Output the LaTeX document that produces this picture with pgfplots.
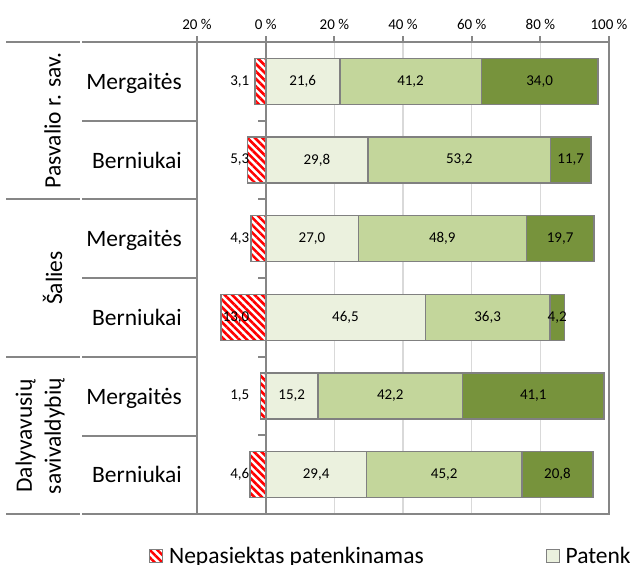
\documentclass[border=0pt]{standalone}
\usepackage{pgfplots}
\pgfplotsset{compat=1.18}
\usepackage{pgfplotstable}
\usepackage{fontspec}
\setmainfont{Carlito}
\usetikzlibrary{patterns.meta}

\definecolor{frame}{HTML}{868686}
\definecolor{gridc}{HTML}{D9D9D9}
\definecolor{c1}{HTML}{EBF1DE}
\definecolor{c2}{HTML}{C3D69B}
\definecolor{c3}{HTML}{77933C}
\definecolor{edge}{HTML}{808080}

\pgfplotstableread{
row nep pat pag auk
6 3.1 21.6 41.2 34.0
5 5.3 29.8 53.2 11.7
4 4.3 27.0 48.9 19.7
3 13.0 46.5 36.3 4.2
2 1.5 15.2 42.2 41.1
1 4.6 29.4 45.2 20.8
}\data

\newcommand{\bigf}{\fontsize{23.5}{29}\selectfont}
\newcommand{\smallf}{\fontsize{15}{18}\selectfont}

\pgfplotsset{
  common/.style={
    at={(197pt,-42pt)}, anchor=north west,
    scale only axis, width=412pt, height=472pt,
    xmin=-20, xmax=100, ymin=0.5, ymax=6.5,
    bar width=46pt,
    /pgf/number format/assume math mode=true,
  },
  lab/.style={
    draw=none, mark=none,
    point meta=explicit,
    nodes near coords={\pgfmathprintnumber[fixed,fixed zerofill,precision=1,use comma]{\pgfplotspointmeta}},
    every node near coord/.style={anchor=center, inner sep=0pt, font=\smallf, text=black},
  },
}

\begin{document}
\begin{tikzpicture}
\begin{axis}[common,
  xbar stacked,
  axis line style={draw=frame, line width=1.8pt},
  xtick={-20,0,20,40,60,80,100},
  xticklabels={20~\%,0~\%,20~\%,40~\%,60~\%,80~\%,100~\%},
  xtick pos=upper, xticklabel pos=upper,
  tick align=outside, major tick length=6pt,
  xtick style={draw=frame, line width=1.8pt},
  xmajorgrids, grid style={draw=gridc, line width=1.3pt},
  ytick=\empty,
  tick label style={font=\smallf},
  xticklabel style={inner sep=2pt, yshift=4pt},
]
\addplot[draw=edge, line width=1.5pt, fill=c1] table[x=pat, y=row]{\data};
\addplot[draw=edge, line width=1.5pt, fill=c2] table[x=pag, y=row]{\data};
\addplot[draw=edge, line width=1.5pt, fill=c3] table[x=auk, y=row]{\data};
\end{axis}
\begin{axis}[common,
  xbar, hide axis,
  legend columns=-1,
  legend style={draw=none, fill=none, inner sep=0pt, font=\bigf,
    at={(axis description cs:-0.1165,-0.089)}, anchor=west,
    nodes={inner sep=0pt},
    /tikz/every odd column/.append style={column sep=6pt},
    /tikz/every even column/.append style={column sep=122pt}},
  legend image code/.code={\draw[#1, line width=0.9pt] (0pt,-6.5pt) rectangle (13pt,6.5pt);},
]
\addplot[draw=edge, line width=1.5pt,
  pattern={Lines[angle=-45,distance=5.3pt,line width=2.6pt]}, pattern color=red,
] table[x expr=-\thisrow{nep}, y=row]{\data};
\addlegendentry{Nepasiektas patenkinamas}
\addlegendimage{draw=edge, fill=c1}
\addlegendentry{Patenkinamas}
\addlegendimage{draw=edge, fill=c2}
\addlegendentry{Pagrindinis}
\addlegendimage{draw=edge, fill=c3}
\addlegendentry{Aukštesnysis}
\draw[frame, line width=1.8pt] (axis cs:0,0.5) -- (axis cs:0,6.5);
\draw[frame, line width=1.8pt] (axis cs:0,1.5) -- ++(-8pt,0pt);
\draw[frame, line width=1.8pt] (axis cs:0,2.5) -- ++(-8pt,0pt);
\draw[frame, line width=1.8pt] (axis cs:0,3.5) -- ++(-8pt,0pt);
\draw[frame, line width=1.8pt] (axis cs:0,4.5) -- ++(-8pt,0pt);
\draw[frame, line width=1.8pt] (axis cs:0,5.5) -- ++(-8pt,0pt);
\end{axis}
% value labels
\begin{axis}[common, hide axis]
\addplot[lab, visualization depends on={\thisrow{nep} \as \rawval},
  every node near coord/.append style={anchor=east, xshift={(\rawval-4.7)*3.43333pt}}]
  table[x expr=-\thisrow{nep}, y=row, meta=nep]{\data};
\addplot[lab] table[x expr=\thisrow{pat}/2, y=row, meta=pat]{\data};
\addplot[lab] table[x expr=\thisrow{pat}+\thisrow{pag}/2, y=row, meta=pag]{\data};
\addplot[lab] table[x expr=\thisrow{pat}+\thisrow{pag}+\thisrow{auk}/2, y=row, meta=auk]{\data};
\end{axis}
% table lines on the left
\begin{scope}[draw=frame, line width=1.6pt]
\foreach \yy in {42,199,357,514}{
  \draw (6pt,-\yy pt) -- (80pt,-\yy pt);
}
\foreach \yy in {42,121,199,278,357,436,514}{
  \draw (82pt,-\yy pt) -- (197pt,-\yy pt);
}
\end{scope}
% group labels
\node[rotate=90, font=\bigf, inner sep=0pt] at (52.5pt,-120.5pt) {Pasvalio r. sav.};
\node[rotate=90, font=\bigf, inner sep=0pt] at (52.5pt,-278pt) {Šalies};
\node[rotate=90, font=\bigf, inner sep=0pt, align=center] at (40pt,-436pt) {Dalyvavusių\\savivaldybių};
% category labels
\foreach \c/\lab in {81.3/Mergaitės,160/Berniukai,238.7/Mergaitės,317.3/Berniukai,396/Mergaitės,474.7/Berniukai}{
  \node[anchor=base east, font=\bigf, inner sep=0pt] at (182pt,-\c pt-8pt) {\lab};
}
\pgfresetboundingbox
\path[use as bounding box] (0pt,0pt) rectangle (630pt,-565pt);
\end{tikzpicture}
\end{document}
